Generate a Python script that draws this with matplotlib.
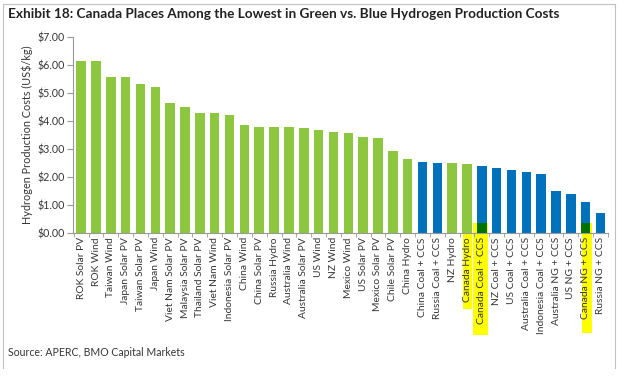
import matplotlib.pyplot as plt
from matplotlib.patches import Rectangle
from matplotlib.lines import Line2D
import numpy as np

plt.rcParams['font.family'] = ['Lato', 'DejaVu Sans']

categories = [
    "ROK Solar PV", "ROK Wind", "Taiwan Wind", "Japan Solar PV", "Taiwan Solar PV",
    "Japan Wind", "Viet Nam Solar PV", "Malaysia Solar PV", "Thailand Solar PV",
    "Viet Nam Wind", "Indonesia Solar PV", "China Wind", "China Solar PV",
    "Russia Hydro", "Australia Wind", "Australia Solar PV", "US Wind", "NZ Wind",
    "Mexico Wind", "US Solar PV", "Mexico Solar PV", "Chile Solar PV", "China Hydro",
    "China Coal + CCS", "Russia Coal + CCS", "NZ Hydro", "Canada Hydro",
    "Canada Coal + CCS", "NZ Coal + CCS", "US Coal + CCS", "Australia Coal + CCS",
    "Indonesia Coal + CCS", "Australia NG + CCS", "US NG + CCS", "Canada NG + CCS",
    "Russia NG + CCS",
]
costs = [
    6.13, 6.13, 5.56, 5.56, 5.30, 5.22, 4.63, 4.48, 4.28, 4.28, 4.22, 3.85,
    3.78, 3.78, 3.78, 3.73, 3.67, 3.61, 3.55, 3.43, 3.39, 2.93, 2.64,
    2.54, 2.48, 2.48, 2.47, 2.40, 2.31, 2.25, 2.19, 2.09, 1.48, 1.38, 1.11, 0.70,
]
h2_type = ["green"] * 23 + ["blue", "blue", "green", "green"] + ["blue"] * 9
highlighted = ["Canada Hydro", "Canada Coal + CCS", "Canada NG + CCS"]

GREEN = "#8dc63f"
BLUE = "#0072bc"
YELLOW = "#ffff00"
TXT = "#363636"

W, H = 624, 383
fig = plt.figure(figsize=(W / 100, H / 100), dpi=100)
ax = fig.add_axes([73 / W, 1 - 233 / H, 535 / W, (233 - 36.7) / H])

x = np.arange(len(categories))
colors = [GREEN if t == "green" else BLUE for t in h2_type]
ax.bar(x, costs, width=0.64, color=colors, zorder=2)

ax.set_xlim(-0.55, len(categories) - 0.6)
ax.set_ylim(0, 7)
ax.set_yticks(np.arange(0, 8, 1))
ax.set_yticklabels([f"${v:.2f}" for v in range(8)], fontsize=7.7, color=TXT)
ax.set_xticks(x)
ax.set_xticklabels(categories, rotation=90, fontsize=7.4, color=TXT)
ax.tick_params(axis="x", length=0, pad=3)
ax.set_xticks(np.arange(-0.5, len(categories), 1), minor=True)
ax.tick_params(axis="x", which="minor", length=3, color="#999999")
ax.tick_params(axis="y", length=4, color="#999999", pad=2)

for s in ["top", "right"]:
    ax.spines[s].set_visible(False)
for s in ["left", "bottom"]:
    ax.spines[s].set_color("#999999")
    ax.spines[s].set_linewidth(0.8)

ax.set_ylabel("Hydrogen Production Costs (US$/kg)", fontsize=7.8, color=TXT, labelpad=3)

# yellow highlighter marks over the Canada labels
trans = ax.get_xaxis_transform()
hl = {
    "Canada Hydro": (-0.30, 0.35, 0.0, -0.385),
    "Canada Coal + CCS": (-0.60, 0.40, 0.051, -0.52),
    "Canada NG + CCS": (-0.25, 0.45, 0.051, -0.51),
}
for name in highlighted:
    i = categories.index(name)
    x0, x1, y0, y1 = hl[name]
    ax.add_patch(Rectangle((i + x0, y1), x1 - x0, y0 - y1, transform=trans,
                           facecolor=YELLOW, edgecolor="none", zorder=0, clip_on=False))
    if y0 > 0:
        # where the marker crosses the bar it darkens the bar
        ax.bar(i, 0.36, width=0.64, color="#007200", zorder=3)

fig.text(8 / W, 1 - 14 / H, "Exhibit 18: Canada Places Among the Lowest in Green vs. Blue Hydrogen Production Costs",
         fontsize=9.85, fontweight="bold", color="#222222", ha="left", va="center")
fig.text(8 / W, 1 - 353 / H, "Source: APERC, BMO Capital Markets",
         fontsize=7.6, color=TXT, ha="left", va="center")

# page frame
for xs, ys in [([3, 3], [4, 368]), ([615, 615], [4, 368]), ([3, 615], [4, 4])]:
    fig.add_artist(Line2D([v / W for v in xs], [1 - v / H for v in ys],
                          color="#c0c0c0", linewidth=0.8))

fig.savefig("out.png", dpi=100)
